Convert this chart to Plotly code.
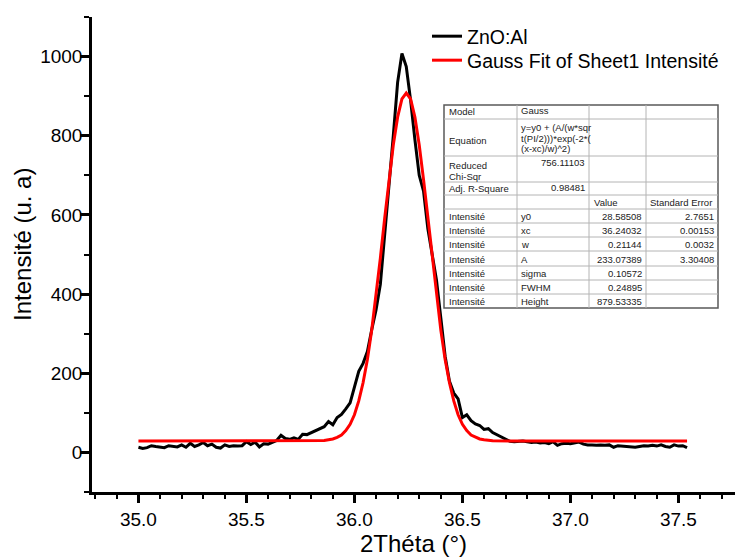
import plotly.graph_objects as go

# ---------------- data ----------------
theta = [round(35.00 + 0.02 * i, 2) for i in range(128)]  # 35.00 ... 37.54
intensity = [
    13, 10, 12, 17, 15, 13, 12, 17, 16, 14,
    19, 13, 23, 15, 19, 25, 17, 21, 13, 11,
    19, 15, 17, 16, 17, 27, 20, 26, 14, 22,
    21, 26, 30, 43, 35, 33, 37, 33, 46, 45,
    50, 55, 58, 65, 78, 70, 88, 96, 110, 125,
    165, 205, 225, 255, 310, 360, 425, 545, 665, 800,
    935, 1008, 975, 890, 790, 700, 660, 565, 500, 435,
    340, 243, 180, 150, 135, 88, 95, 80, 72, 68,
    58, 60, 50, 45, 40, 33, 28, 27, 28, 29,
    27, 25, 26, 24, 25, 22, 27, 18, 22, 23,
    22, 24, 26, 21, 19, 19, 18, 19, 18, 19,
    13, 17, 16, 15, 14, 13, 15, 17, 16, 18,
    16, 19, 15, 13, 19, 16, 17, 12,
]

fit_theta = [35.00, 35.60, 35.84, 35.86, 35.88, 35.90, 35.92, 35.94, 35.96, 35.98,
             36.00, 36.02, 36.04, 36.06, 36.08, 36.10, 36.12, 36.14, 36.16, 36.18,
             36.20, 36.22, 36.24, 36.26, 36.28, 36.30, 36.32, 36.34, 36.36, 36.38,
             36.40, 36.42, 36.44, 36.46, 36.48, 36.50, 36.52, 36.54, 36.56, 36.58,
             36.60, 36.62, 36.64, 36.90, 37.54]
fit_intensity = [28.6, 28.6, 29.3, 30, 32, 34, 38, 44, 55, 71,
                 95, 130, 176, 235, 309, 395, 491, 591, 689, 777,
                 847, 893, 908, 893, 847, 777, 689, 591, 491, 395,
                 309, 235, 176, 130, 95, 71, 55, 44, 38, 34,
                 32, 30, 29.3, 28.6, 28.6]

series_names = ["ZnO:Al", "Gauss Fit of Sheet1 Intensité"]

x_title = "2Théta (°)"
y_title = "Intensité (u. a)"

# fit report table (text)
tbl_model = ["Model", "Gauss"]
tbl_equation = ["y=y0 + (A/(w*sqr", "t(PI/2)))*exp(-2*(", "(x-xc)/w)^2)"]
tbl_chi = ["Reduced", "Chi-Sqr", "756.11103"]
tbl_r2 = ["Adj. R-Square", "0.98481"]
tbl_header = ["Value", "Standard Error"]
tbl_params = ["y0", "xc", "w", "A", "sigma", "FWHM", "Height"]
tbl_values = ["28.58508", "36.24032", "0.21144", "233.07389", "0.10572", "0.24895", "879.53335"]
tbl_errors = ["2.7651", "0.00153", "0.0032", "3.30408", "", "", ""]
tbl_dep = "Intensité"

# ---------------- figure ----------------
FONT = "Liberation Sans, Arial, sans-serif"
W, H = 737, 558
L, R, T, B = 92, 2, 17, 66
PW, PH = W - L - R, H - T - B


def px(xp):
    return (xp - L) / PW


def py(yp):
    return 1 - (yp - T) / PH


fig = go.Figure()
fig.add_trace(go.Scatter(x=theta, y=intensity, mode="lines", name=series_names[0],
                         line=dict(color="black", width=3), legend="legend"))
fig.add_trace(go.Scatter(x=fit_theta, y=fit_intensity, mode="lines", name=series_names[1],
                         line=dict(color="#ff0000", width=3), legend="legend2"))

shapes = []
annotations = []

# table geometry (pixels)
tx0, tx1 = 444, 718
cols = [444, 517, 589, 646, 718]
rows = [105, 119, 156, 182, 195, 209, 223, 237, 251, 266, 280, 294, 308]

shapes.append(dict(type="rect", xref="paper", yref="paper", x0=px(tx0), x1=px(tx1),
                   y0=py(rows[-1]), y1=py(rows[0]), fillcolor="white",
                   line=dict(color="#5a5a5a", width=1.5), layer="above"))
for r in rows[1:-1]:
    shapes.append(dict(type="line", xref="paper", yref="paper", x0=px(tx0), x1=px(tx1),
                       y0=py(r), y1=py(r), line=dict(color="#b4b4b4", width=1), layer="above"))
for c in cols[1:-1]:
    shapes.append(dict(type="line", xref="paper", yref="paper", x0=px(c), x1=px(c),
                       y0=py(rows[-1]), y1=py(rows[0]), line=dict(color="#b4b4b4", width=1),
                       layer="above"))

TF = dict(family=FONT, size=9.5, color="#222222")


def txt(s, xp, yp, anchor="left"):
    annotations.append(dict(text=s, xref="paper", yref="paper", x=px(xp), y=py(yp),
                            xanchor=anchor, yanchor="middle", showarrow=False, font=TF))


txt(tbl_model[0], 447, 112)
txt(tbl_model[1], 519, 110)
txt("Equation", 447, 140)
for i, line in enumerate(tbl_equation):
    txt(line, 519, 127 + 11 * i)
txt(tbl_chi[0], 447, 165)
txt(tbl_chi[1], 447, 176)
txt(tbl_chi[2], 587, 162, "right")
txt(tbl_r2[0], 447, 188)
txt(tbl_r2[1], 587, 187, "right")
txt(tbl_header[0], 592, 202)
txt(tbl_header[1], 648, 202)
for i in range(len(tbl_params)):
    yc = (rows[5 + i] + rows[6 + i]) / 2 + 0.5
    txt(tbl_dep, 447, yc)
    txt(tbl_params[i], 519, yc)
    txt(tbl_values[i], 644, yc, "right")
    if tbl_errors[i]:
        txt(tbl_errors[i], 716, yc, "right")

# y axis title (rotated)
annotations.append(dict(text=y_title, xref="paper", yref="paper", x=px(22), y=py(245),
                        xanchor="center", yanchor="middle", textangle=-90, showarrow=False,
                        font=dict(family=FONT, size=24, color="black")))

LEGFONT = dict(family=FONT, size=19.5, color="black")
fig.update_layout(
    width=W, height=H,
    margin=dict(l=L, r=R, t=T, b=B),
    paper_bgcolor="white", plot_bgcolor="white",
    font=dict(family=FONT, color="black"),
    showlegend=True,
    legend=dict(x=px(427), y=py(17), xanchor="left", yanchor="top",
                bgcolor="rgba(0,0,0,0)", font=LEGFONT, itemwidth=30),
    legend2=dict(x=px(427), y=py(41), xanchor="left", yanchor="top",
                 bgcolor="rgba(0,0,0,0)", font=LEGFONT, itemwidth=30),
    shapes=shapes,
    annotations=annotations,
    xaxis=dict(range=[34.785, 37.762], showgrid=False, zeroline=False,
               showline=True, linecolor="black", linewidth=2.5,
               ticks="outside", ticklen=8, tickwidth=2.5, tickcolor="black",
               tickmode="linear", tick0=35, dtick=0.5, tickformat=".1f",
               ticklabelstandoff=0,
               minor=dict(ticks="outside", ticklen=4, tickwidth=2, tickcolor="black",
                          dtick=0.1, tick0=35, showgrid=False),
               tickfont=dict(family=FONT, size=19, color="black"),
               title=dict(text=x_title, font=dict(family=FONT, size=24, color="black"),
                          standoff=4)),
    yaxis=dict(range=[-100, 1100], showgrid=False, zeroline=False,
               showline=True, linecolor="black", linewidth=2.5,
               ticks="outside", ticklen=9, tickwidth=2.5, tickcolor="black",
               tickmode="linear", tick0=0, dtick=200,
               ticklabelstandoff=-6,
               minor=dict(ticks="outside", ticklen=5, tickwidth=2, tickcolor="black",
                          dtick=100, tick0=0, showgrid=False),
               tickfont=dict(family=FONT, size=19, color="black")),
)

fig.write_html("out.html", config={"displayModeBar": False},
               post_script="document.body.style.margin='0';document.body.style.overflow='hidden';")
